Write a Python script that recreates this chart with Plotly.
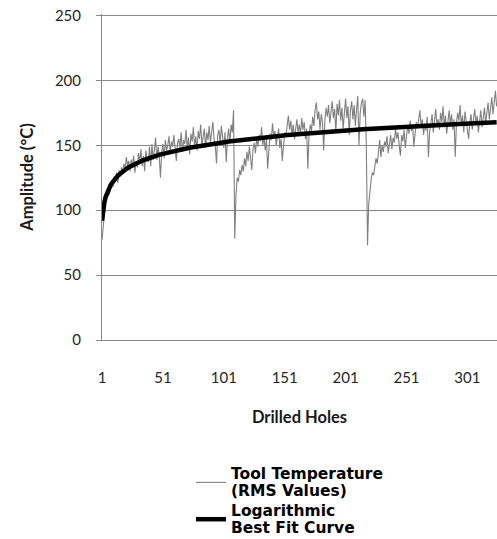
import numpy as np
import plotly.graph_objects as go

# Tool temperature (RMS) recorded for each drilled hole, in degrees C
temp_holes_1_54 = [
    77, 90, 102, 108, 114, 117, 112, 120, 123, 118, 126, 123, 129, 121, 131, 126, 133, 129,
    136, 131, 141, 134, 138, 130, 139, 134, 142, 129, 138, 133, 144, 137, 147, 134, 142, 130,
    146, 140, 137, 149, 134, 151, 139, 146, 156, 139, 149, 142, 125, 145, 151, 140, 154, 146,
]
temp_holes_55_108 = [
    150, 157, 144, 153, 149, 158, 146, 138, 152, 155, 148, 160, 145, 154, 151, 162, 147, 156,
    143, 159, 153, 164, 149, 157, 146, 161, 155, 166, 150, 158, 163, 148, 160, 154, 165, 152,
    159, 168, 155, 150, 136, 158, 162, 151, 165, 157, 148, 160, 137, 155, 163, 152, 166, 160,
]
temp_holes_109_162 = [
    177, 78, 112, 125, 122, 131, 127, 135, 130, 140, 134, 145, 138, 149, 142, 131, 147, 152,
    144, 156, 149, 158, 153, 164, 150, 157, 146, 155, 132, 150, 159, 154, 167, 156, 161, 150,
    158, 163, 148, 155, 138, 152, 160, 157, 168, 173, 162, 169, 158, 166, 155, 163, 170, 160,
]
temp_holes_163_216 = [
    166, 158, 171, 162, 168, 155, 163, 132, 158, 166, 161, 172, 165, 178, 183, 170, 176, 162,
    174, 168, 146, 170, 179, 172, 181, 167, 176, 184, 171, 178, 160, 182, 173, 185, 169, 179,
    163, 176, 186, 171, 180, 158, 177, 184, 170, 181, 165, 178, 188, 150, 175, 183, 186, 172,
]
temp_holes_217_270 = [
    185, 150, 73, 105, 118, 124, 129, 127, 134, 140, 136, 148, 154, 141, 150, 145, 153, 149,
    157, 144, 152, 158, 147, 156, 152, 163, 155, 160, 150, 142, 158, 153, 162, 148, 157, 165,
    159, 169, 161, 166, 149, 160, 168, 163, 171, 177, 164, 170, 158, 167, 161, 172, 141, 160,
]
temp_holes_271_325 = [
    167, 174, 160, 172, 178, 165, 170, 162, 175, 168, 180, 164, 173, 159, 171, 177, 166, 174,
    162, 170, 141, 167, 175, 169, 181, 165, 173, 160, 176, 170, 164, 155, 168, 174, 162, 171,
    178, 166, 173, 160, 169, 177, 164, 172, 179, 167, 175, 183, 170, 178, 187, 174, 182, 192,
    180,
]

temperature = (
    temp_holes_1_54 + temp_holes_55_108 + temp_holes_109_162
    + temp_holes_163_216 + temp_holes_217_270 + temp_holes_271_325
)
holes = np.arange(1, len(temperature) + 1)

x_tick_values = [1, 51, 101, 151, 201, 251, 301]
y_tick_values = [0, 50, 100, 150, 200, 250]

series_names = [
    ["Tool Temperature", "(RMS Values)"],
    ["Logarithmic", "Best Fit Curve"],
]

# Logarithmic least-squares trend line: T = a + b*ln(hole)
b, a = np.polyfit(np.log(holes), np.array(temperature, dtype=float), 1)
trend = a + b * np.log(holes)

grid_gray = "#8a8a8a"
tick_font = dict(family="Lato", size=15, color="#262626")
title_font = dict(family="Lato", size=16.5, color="#1a1a1a", weight="bold")


def legend_label(lines):
    # larger glyphs on a tight ~17px line pitch
    return "<br>".join(f'<span style="font-size:15.5px">{t}</span>' for t in lines)


fig = go.Figure()
fig.add_trace(go.Scatter(
    x=holes, y=temperature, mode="lines",
    line=dict(color="#808080", width=1.1),
    name=legend_label(series_names[0]),
))
fig.add_trace(go.Scatter(
    x=holes, y=trend, mode="lines",
    line=dict(color="#000000", width=4.5),
    name=legend_label(series_names[1]),
))

# plot area spans x 102..497 px and y 14..340 px
fig.update_layout(
    width=497, height=539,
    margin=dict(l=102, r=0, t=14, b=199, autoexpand=False),
    paper_bgcolor="white", plot_bgcolor="white",
    showlegend=True,
    legend=dict(
        x=(191 - 102) / 395, y=(340 - 459) / 326,
        xanchor="left", yanchor="top",
        font=dict(family="DejaVu Sans", size=13, color="#000000", weight="bold"),
        tracegroupgap=0, itemwidth=30,
        bgcolor="rgba(0,0,0,0)",
    ),
    xaxis=dict(
        range=[1, 325.3],
        tickmode="array", tickvals=x_tick_values,
        ticktext=[str(v) for v in x_tick_values],
        tickangle=0,
        showgrid=False, zeroline=False,
        showline=True, linecolor=grid_gray, linewidth=1,
        ticks="", tickfont=tick_font, ticklabelstandoff=24,
        automargin=False,
        title=dict(text="Drilled Holes", font=title_font, standoff=26),
    ),
    yaxis=dict(
        range=[0, 251.2],
        tickmode="array", tickvals=y_tick_values,
        ticktext=[str(v) for v in y_tick_values],
        showgrid=True, gridcolor=grid_gray, gridwidth=1,
        zeroline=False,
        showline=True, linecolor=grid_gray, linewidth=1,
        ticks="outside", ticklen=5, tickcolor=grid_gray,
        tickfont=tick_font, ticklabelstandoff=12,
        automargin=False,
        title=dict(text="Amplitude (°C)", font=title_font, standoff=17),
    ),
)

fig.write_html("out.html")
